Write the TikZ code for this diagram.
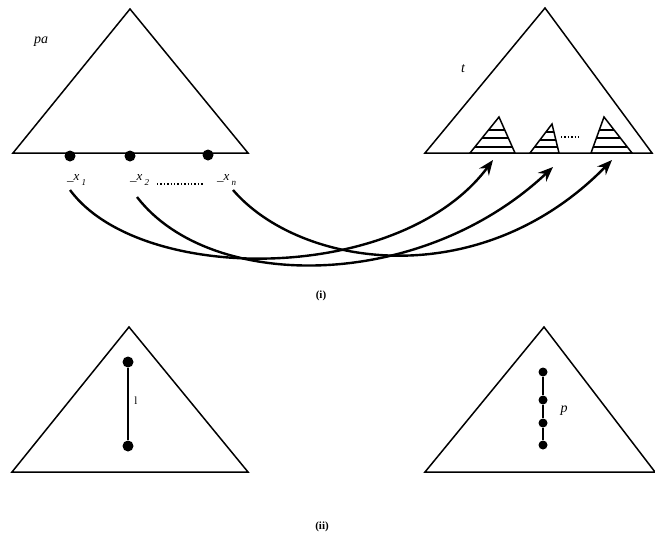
\documentclass[tikz,border=0pt]{standalone}
\usepackage{fontspec}
\setmainfont{Liberation Serif}
\usetikzlibrary{arrows.meta}
\begin{document}
\begin{tikzpicture}[x=1pt,y=-1pt,
  tri/.style={line width=1.5pt, line join=miter},
  bigdot/.style={circle, fill=black, inner sep=0pt, minimum size=11pt},
  smalldot/.style={circle, fill=black, inner sep=0pt, minimum size=9pt},
  lbl/.style={font=\fontsize{14}{16}\selectfont\itshape, inner sep=0pt},
  xl/.style={font=\fontsize{13}{15}\selectfont\itshape, inner sep=0pt, anchor=west},
  captext/.style={font=\fontsize{11}{12}\selectfont\bfseries, inner sep=0pt},
  link/.style={line width=2.4pt, -{Stealth[open, length=15pt, width=12pt, inset=5pt]}},
  hatch/.style={line width=1.3pt},
  dotline/.style={line width=1.4pt, dotted}]
\useasboundingbox (0,0) rectangle (655,543);

% ---------- (i) left tree pa
\coordinate (A1) at (130,9);
\coordinate (L1) at (13,153);
\coordinate (R1) at (248,153);
\draw[tri] (A1) -- (L1) -- (R1) -- cycle;
\node[lbl] (pa) at (41,42) {pa};
\node[bigdot] (d1) at (70,156) {};
\node[bigdot] (d2) at (130,156) {};
\node[bigdot] (d3) at (208,155) {};

\node[xl] (x1) at (67,180) {\_x\,\raisebox{-5pt}{\fontsize{9}{10}\selectfont 1}};
\node[xl] (x2) at (130,180) {\_x\,\raisebox{-5pt}{\fontsize{9}{10}\selectfont 2}};
\node[xl] (xn) at (217,180) {\_x\,\raisebox{-5pt}{\fontsize{9}{10}\selectfont n}};
\coordinate (dotsA) at (157,184);
\coordinate (dotsB) at (204,184);
\draw[dotline] (dotsA) -- (dotsB);

% ---------- (i) right tree t
\coordinate (A2) at (545,8);
\coordinate (L2) at (425,153);
\coordinate (R2) at (652,153);
\draw[tri] (A2) -- (L2) -- (R2) -- cycle;
\node[lbl] (t) at (463,69) {t};

% small hatched subtrees
\coordinate (s1a) at (499,117); \coordinate (s1l) at (470,153); \coordinate (s1r) at (515,153);
\coordinate (s2a) at (552,124); \coordinate (s2l) at (530,153); \coordinate (s2r) at (559,153);
\coordinate (s3a) at (604,117); \coordinate (s3l) at (591,153); \coordinate (s3r) at (632,153);
\foreach \a/\l/\r/\ya/\yb/\yc in {s1a/s1l/s1r/130/138/147, s2a/s2l/s2r/132/140/147, s3a/s3l/s3r/130/138/147}{
  \begin{scope}
    \clip (\a) -- (\l) -- (\r) -- cycle;
    \draw[hatch] (400,\ya) -- (655,\ya);
    \draw[hatch] (400,\yb) -- (655,\yb);
    \draw[hatch] (400,\yc) -- (655,\yc);
  \end{scope}
  \draw[tri] (\a) -- (\l) -- (\r) -- cycle;
}
\coordinate (sdA) at (561,137);
\coordinate (sdB) at (581,137);
\draw[dotline] (sdA) -- (sdB);

% arrows targets
\coordinate (T1) at (493,160);
\coordinate (T2) at (553,167);
\coordinate (T3) at (612,160);
\coordinate (S1) at (70,190);
\coordinate (S2) at (137,197);
\coordinate (S3) at (233,190);

\draw[link] (S1) .. controls (140,285) and (400,285) .. (T1);
\draw[link] (S2) .. controls (210,292) and (420,292) .. (T2);
\draw[link] (S3) .. controls (300,268) and (480,295) .. (T3);

\node[captext] (capi) at (321,296) {(i)};

% ---------- (ii) left
\coordinate (A3) at (129,327);
\coordinate (L3) at (12,472);
\coordinate (R3) at (248,472);
\draw[tri] (A3) -- (L3) -- (R3) -- cycle;
\node[bigdot] (e1) at (128,362) {};
\node[bigdot] (e2) at (128,446) {};
\draw[line width=1.6pt] (e1) -- (e2);
\node[font=\fontsize{11}{12}\selectfont, inner sep=0pt] (l) at (136,401) {l};

% ---------- (ii) right
\coordinate (A4) at (544,327);
\coordinate (L4) at (425,472);
\coordinate (R4) at (655,472);
\draw[tri] (A4) -- (L4) -- (R4) -- cycle;
\node[smalldot] (p1) at (543,372) {};
\node[smalldot] (p2) at (543,400) {};
\node[smalldot] (p3) at (543,423) {};
\node[smalldot] (p4) at (543,445) {};
\draw[line width=1.6pt] (p1) -- (p2) -- (p3) -- (p4);
\node[lbl] (p) at (564,411) {p};

\node[captext] (capii) at (322,527) {(ii)};
\end{tikzpicture}
\end{document}
